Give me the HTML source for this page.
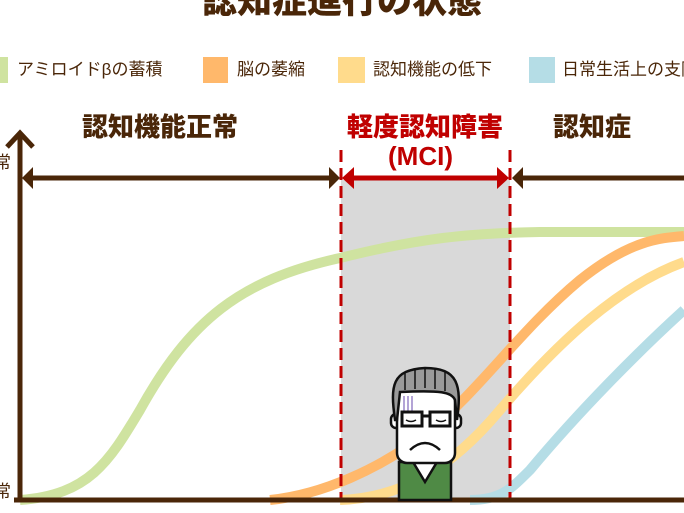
<!DOCTYPE html>
<html><head><meta charset="utf-8"><style>
body{margin:0;background:#fff;width:684px;height:513px;overflow:hidden;position:relative;font-family:"Liberation Sans","Noto Sans CJK JP",sans-serif;color:#4a2608}
.t{position:absolute;white-space:nowrap;line-height:1}
.sw{position:absolute;top:57px;height:26px}
.lg{position:absolute;top:61px;font-size:17px;white-space:nowrap;line-height:1}
.h{font-size:26px;font-weight:900}
</style></head><body>
<div class="t" style="left:0;width:684px;text-align:center;top:-16px;font-size:35px;font-weight:900">認知症進行の状態</div>
<div class="sw" style="left:-2px;width:10px;background:#cfe3a0"></div>
<div class="lg" style="left:17px">アミロイドβの蓄積</div>
<div class="sw" style="left:203px;width:25px;background:#ffb86b"></div>
<div class="lg" style="left:237px">脳の萎縮</div>
<div class="sw" style="left:338px;width:27px;background:#ffdb8c"></div>
<div class="lg" style="left:373px">認知機能の低下</div>
<div class="sw" style="left:529px;width:26px;background:#b5dde6"></div>
<div class="lg" style="left:562px">日常生活上の支障</div>
<div class="t h" style="left:82px;top:114px">認知機能正常</div>
<div class="t h" style="left:347px;top:114px;color:#c00000">軽度認知障害</div>
<div class="t h" style="left:388px;top:143px;color:#c00000">(MCI)</div>
<div class="t h" style="left:553px;top:114px">認知症</div>
<div class="t" style="left:-6px;top:154px;font-size:17px">常</div>
<div class="t" style="left:-6px;top:483px;font-size:17px">常</div>
<svg width="684" height="513" style="position:absolute;left:0;top:0">
<rect x="341" y="180" width="169" height="320" fill="#d9d9d9"/>
<g fill="none" stroke-width="10" stroke-linecap="butt">
<path d="M20,500 C90,495 110,460 140,410 C190,320 240,280 340,258 C420,238 470,233 540,232 L684,232" stroke="#cfe3a0"/>
<path d="M270,500 C320,495 380,470 430,430 C480,390 520,330 580,280 C630,240 660,238 684,236" stroke="#ffb86b"/>
<path d="M340,500 C400,498 450,470 500,410 C560,340 620,285 684,262" stroke="#ffdb8c"/>
<path d="M470,500 C500,500 510,490 530,470 C580,410 640,350 684,310" stroke="#b5dde6"/>
</g>
<g stroke="#c00000" stroke-width="3" stroke-dasharray="12,6"><line x1="341" y1="150" x2="341" y2="500"/><line x1="510" y1="150" x2="510" y2="500"/></g>
<g stroke="#4a2608" stroke-width="5" fill="none">
<line x1="20" y1="134" x2="20" y2="500"/><polyline points="7,147 20,133 33,147"/>
<line x1="14" y1="500" x2="684" y2="500"/>
<line x1="28" y1="178" x2="330" y2="178"/><line x1="520" y1="178" x2="684" y2="178"/>
</g>
<g fill="#4a2608"><polygon points="22,178 33,167 33,189"/><polygon points="340,178 329,167 329,189"/><polygon points="512,178 523,167 523,189"/></g>
<line x1="350" y1="178" x2="502" y2="178" stroke="#c00000" stroke-width="5"/>
<g fill="#c00000"><polygon points="342,178 354,167 354,189"/><polygon points="509,178 497,167 497,189"/></g>
<g stroke="#111" stroke-width="2.5">
<path d="M399,462 h52 v38 h-52z" fill="#4f8a45"/>
<path d="M413,462 l12,20 l12,-20z" fill="#fff"/>
<rect x="391" y="414" width="10" height="14" rx="5" fill="#fff"/><rect x="451" y="414" width="10" height="14" rx="5" fill="#fff"/>
<rect x="397" y="385" width="58" height="78" rx="10" fill="#fff"/>
<path d="M395,420 C390,385 392,370 425,368 C458,368 462,385 457,420 L455,400 C452,392 440,390 400,392 L397,420z" fill="#9a9a9a"/>
<g stroke-width="1.5" fill="none"><path d="M405,372 v18 M415,369 v20 M425,368 v20 M435,369 v20 M445,371 v20"/></g>
<g stroke="#8a72c0" stroke-width="1.3"><path d="M404,396 v16 M408,396 v16 M412,396 v16"/></g>
<path d="M402,412 h20 v14 h-20z M430,412 h20 v14 h-20z M422,416 h8" fill="none" stroke-width="3"/>
<path d="M406,420 q5,3 10,0 M436,420 q5,3 10,0" fill="none" stroke-width="1.5"/>
<path d="M410,450 q15,-14 30,0" fill="none"/>
</g>
</svg>
</body></html>
